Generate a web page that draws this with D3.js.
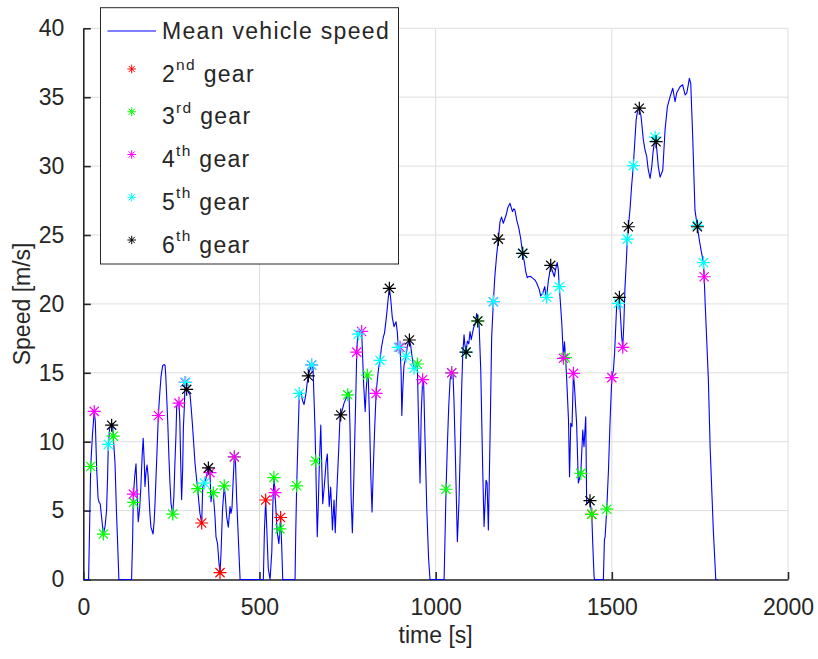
<!DOCTYPE html>
<html>
<head>
<meta charset="utf-8">
<script src="https://cdn.jsdelivr.net/npm/d3@7"></script>
<style>
  html, body { margin: 0; padding: 0; background: #fff; }
  svg { display: block; }
  text { font-family: "Liberation Sans", Arial, Helvetica, sans-serif; fill: #262626; }
</style>
</head>
<body>
<svg id="chart" width="818" height="659"></svg>
<script>
// Mean vehicle speed trace: time [s] and speed [m/s]
const speedTime = [
  0, 15, 18, 21, 26, 31, 34, 38, 42, 45, 48, 52, 57, 62, 66, 69, 71, 75, 80.5, 83, 85, 90, 94, 97.5, 101,
  137, 140, 142, 146, 149.6, 153, 156, 160, 163, 167, 170, 173, 175, 178, 181, 184, 186.5, 189, 192, 198,
  201, 203.5, 208, 213, 217, 220.5, 225, 229, 232, 234, 236.6, 240, 243, 246, 249, 253.7, 257, 260, 263,
  265, 268, 271.6, 274, 276, 279, 282, 284, 286.7, 288.7, 291, 293.4, 298, 303, 306, 309.6, 313, 317,
  321, 324.6, 328, 331, 336, 339, 343.6, 348, 352, 355, 357, 359.6, 362.5, 365, 369, 371, 373.8, 376.6,
  381, 385, 388, 391, 395, 400, 403, 407, 411.6, 416.4, 419, 422, 425, 428.6, 432, 435, 440, 445,
  511, 514, 517.6, 521, 525, 530, 535, 538, 541, 544, 550, 555, 558, 560, 563, 566,
  601, 603, 605.6, 608, 610, 613, 618, 622, 626.5, 632, 636, 638.7, 643, 648, 652, 655, 657.7, 659.6,
  662, 664, 667, 670, 674, 677, 679.5, 683, 686, 689, 692.6, 695, 698, 702, 705, 707, 711.6, 715, 718,
  721, 725, 728.6, 730.6, 735, 740, 745, 750.5, 754, 757, 760, 763.6, 767, 771, 774, 776, 778, 780.6,
  785, 790, 793, 796, 800, 803, 806, 809, 812, 816, 819.5, 823, 827, 831, 835, 838, 842, 846, 851.5,
  855, 860, 865, 868.6, 872, 877, 882, 887.6, 891, 894, 899, 902, 904, 907, 910, 916, 920, 925.5, 929,
  934, 938.6, 943, 948, 951, 955.7, 959, 963, 966, 970, 975, 980, 984,
  1024, 1027, 1029.5, 1033, 1037, 1041, 1045.6, 1049, 1052, 1056, 1061.6, 1066, 1070, 1074, 1077,
  1080.6, 1083, 1086.4, 1090, 1094, 1097.6, 1101, 1104, 1108, 1112, 1116.5, 1119.5, 1123, 1128,
  1133.6, 1137.4, 1143, 1146, 1149.6, 1154.4, 1159, 1163.8, 1168, 1173, 1178, 1182.7, 1187, 1192,
  1200, 1205, 1211, 1218, 1222, 1225, 1230, 1236, 1241, 1247, 1252, 1256, 1260, 1263, 1268, 1272.7,
  1282, 1287, 1294.6, 1298, 1303.8, 1309.5, 1312, 1315, 1320, 1322, 1326.6, 1330, 1337, 1340, 1345,
  1348, 1351, 1358, 1362.6, 1365.6, 1369, 1372, 1377, 1380, 1383.4, 1387, 1391, 1394, 1400, 1405,
  1412, 1417.5, 1421, 1426, 1428.6, 1433, 1438, 1443, 1446, 1449.6, 1451,
  1476, 1479, 1481, 1485.6, 1490.5, 1495, 1500, 1504.5, 1508, 1514, 1518.7, 1521.5, 1528, 1531,
  1534, 1537, 1541, 1544, 1547, 1552, 1556, 1561, 1569, 1573, 1578, 1583, 1589.5, 1594, 1599, 1603,
  1608.6, 1613.4, 1617, 1622.8, 1625.6, 1632, 1637, 1644.6, 1651, 1657.6, 1665, 1673, 1679.5, 1684,
  1693.6, 1701, 1708, 1712.6, 1717, 1720, 1724, 1729.6, 1736, 1742.8, 1748.5, 1754, 1760, 1762, 1765,
  1774, 1779, 1788, 1795, 1800
];
const speedValue = [
  0, 0, 4, 8.2, 10.5, 12.2, 11.5, 8, 5.9, 5.6, 5.5, 4.5, 3.3, 3.9, 5.0, 7.5, 9.8, 11.0, 11.2, 11.3, 10.4, 8.45, 5, 2.6, 0,
  0, 3, 6.0, 7.5, 8.4, 6, 4.2, 5.2, 6.5, 9, 10.25, 8.5, 6.75, 7.8, 8.3, 7.5, 6.0, 4.8, 3.8, 3.3,
  4.2, 5.5, 8.5, 11.9, 13.5, 14.7, 15.5, 15.6, 15.55, 14.8, 13.3, 11.2, 8.9, 7.0, 5.5, 4.75, 6.0, 8.4, 10.5,
  12.5, 12.8, 12.8, 11.5, 9.0, 5.8, 8.0, 11.0, 12.5, 14.2, 14.4, 13.8, 13.6, 13.4, 12.5, 11.3, 10.0, 8.45,
  7.4, 6.6, 5.6, 4.8, 4.1, 6.7, 7.0, 7.3, 7.8, 8.1, 8.0, 7.75, 5.65, 6.2, 6.3, 5.5, 4.55, 3.1,
  2.6, 1.2, 0.5, 2.0, 5, 6.8, 6.0, 4.55, 3.8, 5.3, 4.8, 5.2, 7.0, 8.9, 8.5, 6.0, 3.0, 0,
  0, 3.5, 5.77, 3.5, 0.8, 0, 2, 5.5, 7.4, 6.3, 3.5, 2.6, 3.67, 4.5, 2.5, 0,
  0, 3.5, 6.8, 9.0, 10.85, 13.5, 13.6, 13.0, 12.7, 13.5, 14.4, 14.77, 15.2, 15.57, 15.3, 13.0, 10.85, 8.6,
  5.5, 3.1, 5.5, 8.4, 11.2, 8.0, 5.5, 6.5, 7.45, 8.5, 9.1, 7.0, 5.3, 6.7, 5.0, 3.6, 5.77, 3.4, 5.5,
  7.2, 9.5, 11.8, 11.94, 12.3, 12.8, 13.1, 13.4, 13.6, 11.0, 6.0, 3.4, 6.5, 10.85, 14.0, 16.5, 17.4, 17.8,
  18.0, 18.0, 16.0, 14.0, 12.2, 13.8, 14.84, 14.5, 12.0, 7.5, 4.9, 8.0, 11.0, 13.5, 14.6, 15.3, 15.9, 16.8, 17.6,
  17.9, 19.0, 20.3, 21.13, 20.5, 19.0, 18.35, 18.7, 18.0, 16.85, 16.85, 15.0, 11.9, 14.0, 15.5, 16.2, 17.0, 17.38, 17.0,
  16.0, 15.33, 15.4, 15.64, 12.0, 7.0, 12.0, 14.5, 14.2, 10.0, 5.0, 1.5, 0,
  0, 3.5, 6.55, 9.5, 12.5, 14.5, 15.0, 15.1, 13.0, 9.0, 2.75, 5.5, 9.5, 14.0, 16.4,
  17.75, 17.0, 16.5, 17.3, 17.1, 18.0, 17.4, 17.8, 18.3, 18.5, 19.3, 18.76, 18.7, 15.2,
  7.95, 3.84, 7.2, 7.0, 3.6, 10.36, 17.6, 20.16, 22.0, 23.5, 24.7, 25.97, 26.3, 25.85,
  26.45, 27.0, 27.3, 26.7, 26.9, 26.8, 26.1, 25.5, 24.8, 23.67, 23.0, 22.3, 21.9, 21.97, 22.0, 21.93,
  21.73, 21.5, 21.0, 20.57, 20.77, 21.25, 20.8, 20.48, 21.73, 22.0, 22.8, 22.5, 21.97, 22.45, 23.0,
  22.5, 21.25, 18.6, 16.05, 17.25, 16.0, 14.5, 11.6, 7.46, 11.33, 11.1, 14.96, 14.0, 11.33, 7.0,
  7.7, 10.85, 9.64, 11.8, 5.5, 5.6, 5.72, 4.73, 2.5, 0.2, 0,
  0, 2.9, 3.1, 5.1, 7.95, 11.5, 14.65, 15.2, 16.5, 20.04, 20.04, 20.48, 17.6, 16.85,
  18.5, 21.0, 23.0, 24.7, 25.6, 27.0, 28.5, 30.03, 33.35, 34.0, 34.2, 33.6, 31.9, 31.2, 30.7, 29.8,
  29.1, 29.96, 31.0, 32.1, 31.77, 29.96, 29.2, 29.7, 32.6, 34.3, 35.0, 35.65, 34.67, 35.3,
  35.76, 35.9, 35.16, 35.3, 35.9, 36.37, 36.0, 32.1, 26.8, 25.6, 24.6, 23.8, 23.0, 21.97, 20.0,
  14.5, 9.6, 3.6, 0, 0
];

// Gear shift points: [time s, speed m/s]
const gear2 = [[336, 4.1], [388, 0.5], [517.6, 5.77], [560, 4.5], [1443, 4.73]];
const gear3 = [[21, 8.2], [57, 3.3], [85, 10.4], [143, 5.6], [253.7, 4.75], [324.6, 6.6], [369, 6.3],
  [400, 6.8], [428.6, 8.9], [541, 7.4], [558, 3.67], [605.6, 6.8], [659.6, 8.6], [750.5, 13.4],
  [806, 14.84], [948, 15.64], [1029.5, 6.55], [1045.6, 15.0], [1119.5, 18.76], [1368, 16.1],
  [1412, 7.7], [1443, 4.73], [1485.6, 5.1]];
const gear4 = [[31, 12.2], [142, 6.2], [213, 11.9], [271.6, 12.8], [289, 14.3], [359.6, 7.75],
  [428.6, 8.9], [544, 6.3], [648, 15.57], [776, 16.5], [790, 18.0], [831, 13.5], [899, 16.85],
  [963, 14.5], [1045.6, 15.0], [1163.8, 20.16], [1362.6, 16.05], [1391, 14.96], [1500, 14.65],
  [1531, 16.85], [1762, 21.97]];
const gear5 = [[71, 9.8], [290.6, 14.3], [343.6, 7.0], [613, 13.5], [648, 15.57], [780.6, 17.8],
  [842, 15.9], [894, 16.85], [916, 16.2], [938.6, 15.33], [1086.4, 16.5], [1163.8, 20.16],
  [1247, 23.67], [1315, 20.48], [1351, 21.25], [1518.7, 20.04], [1544, 24.7], [1561, 30.03],
  [1622.8, 32.1], [1742.8, 25.7], [1760, 23.0]];
const gear6 = [[80.5, 11.2], [293.4, 13.8], [355, 8.1], [638.7, 14.77], [730.6, 11.94],
  [868.6, 21.13], [925.5, 17.38], [1086.4, 16.5], [1119.5, 18.76], [1178, 24.7], [1247, 23.67],
  [1326.6, 22.8], [1438, 5.72], [1521.5, 20.48], [1547, 25.6], [1578, 34.2], [1625.6, 31.77],
  [1742.8, 25.6]];

const xTicks = [0, 500, 1000, 1500, 2000];
const yTicks = [0, 5, 10, 15, 20, 25, 30, 35, 40];

const gearSeries = [
  { base: "2", sup: "nd", color: "#ff0000", points: gear2 },
  { base: "3", sup: "rd", color: "#00ff00", points: gear3 },
  { base: "4", sup: "th", color: "#ff00ff", points: gear4 },
  { base: "5", sup: "th", color: "#00ffff", points: gear5 },
  { base: "6", sup: "th", color: "#000000", points: gear6 }
];

const svg = d3.select("#chart");
const plotLeft = 83.3, plotRight = 788, plotTop = 28.3, plotBottom = 579.5;
const x = d3.scaleLinear().domain([0, 2000]).range([plotLeft, plotRight]);
const y = d3.scaleLinear().domain([0, 40]).range([plotBottom, plotTop]);
const axisColor = "#262626";

// grid
const grid = svg.append("g");
grid.selectAll("line.gx").data(xTicks).enter().append("line")
  .attr("x1", d => x(d)).attr("x2", d => x(d)).attr("y1", plotTop).attr("y2", plotBottom)
  .attr("stroke", "#dedede").attr("stroke-width", 1);
grid.selectAll("line.gy").data(yTicks).enter().append("line")
  .attr("x1", plotLeft).attr("x2", plotRight).attr("y1", d => y(d)).attr("y2", d => y(d))
  .attr("stroke", "#dedede").attr("stroke-width", 1);

// axes (ticks point inward)
const xAxis = d3.axisBottom(x).tickValues(xTicks).tickFormat(d3.format("d"))
  .tickSizeInner(-7.5).tickSizeOuter(0).tickPadding(19);
const yAxis = d3.axisLeft(y).tickValues(yTicks).tickFormat(d3.format("d"))
  .tickSizeInner(-7.5).tickSizeOuter(0).tickPadding(19);
const gx = svg.append("g").attr("transform", `translate(0,${plotBottom})`).call(xAxis);
const gy = svg.append("g").attr("transform", `translate(${plotLeft},0)`).call(yAxis);
[gx, gy].forEach(g => {
  g.select(".domain").attr("stroke", axisColor).attr("stroke-width", 1.6);
  g.selectAll(".tick line").attr("stroke", axisColor).attr("stroke-width", 1.6);
  g.selectAll(".tick text").attr("font-size", 23).attr("fill", axisColor)
    .style("font-family", "'Liberation Sans', Arial, sans-serif");
});

// speed trace
const line = d3.line().x(d => x(d[0])).y(d => y(d[1]));
const trace = speedTime.map((t, i) => [t, speedValue[i]]);
svg.append("path").datum(trace).attr("d", line)
  .attr("fill", "none").attr("stroke", "#0000ff").attr("stroke-width", 1.1)
  .attr("stroke-linejoin", "round");

// asterisk marker
function asterisk(r) {
  const d = r * 0.7071;
  return `M${-r},0L${r},0M0,${-r}L0,${r}M${-d},${-d}L${d},${d}M${-d},${d}L${d},${-d}`;
}

gearSeries.forEach(s => {
  svg.append("g").selectAll("path").data(s.points).enter().append("path")
    .attr("transform", d => `translate(${x(d[0])},${y(d[1])})`)
    .attr("d", asterisk(6.5))
    .attr("fill", "none").attr("stroke", s.color).attr("stroke-width", 1.2);
});

// axis labels
svg.append("text").attr("x", (plotLeft + plotRight) / 2).attr("y", 643)
  .attr("text-anchor", "middle").attr("font-size", 23).text("time [s]");
svg.append("text").attr("transform", `translate(30,${(plotTop + plotBottom) / 2}) rotate(-90)`)
  .attr("text-anchor", "middle").attr("font-size", 23).text("Speed [m/s]");

// legend
const lg = svg.append("g");
lg.append("rect").attr("x", 100.5).attr("y", 7.7).attr("width", 298).attr("height", 256.3)
  .attr("fill", "#fff").attr("stroke", axisColor).attr("stroke-width", 1);
lg.append("line").attr("x1", 107.5).attr("x2", 156).attr("y1", 31).attr("y2", 31)
  .attr("stroke", "#0000ff").attr("stroke-width", 1.1);
lg.append("text").attr("x", 162).attr("y", 38.5).attr("font-size", 23)
  .attr("letter-spacing", 1.3).text("Mean vehicle speed");
gearSeries.forEach((s, i) => {
  const base = 81.5 + i * 42.75;
  lg.append("path").attr("transform", `translate(131.7,${base - 12.5})`)
    .attr("d", asterisk(4.3)).attr("fill", "none").attr("stroke", s.color).attr("stroke-width", 1);
  const t = lg.append("text").attr("x", 162).attr("y", base).attr("font-size", 23)
    .attr("letter-spacing", 1.3);
  t.append("tspan").text(s.base);
  t.append("tspan").attr("dy", -11.5).attr("font-size", 15.5).text(s.sup);
  t.append("tspan").attr("dy", 11.5).text(" gear");
});
</script>
</body>
</html>
